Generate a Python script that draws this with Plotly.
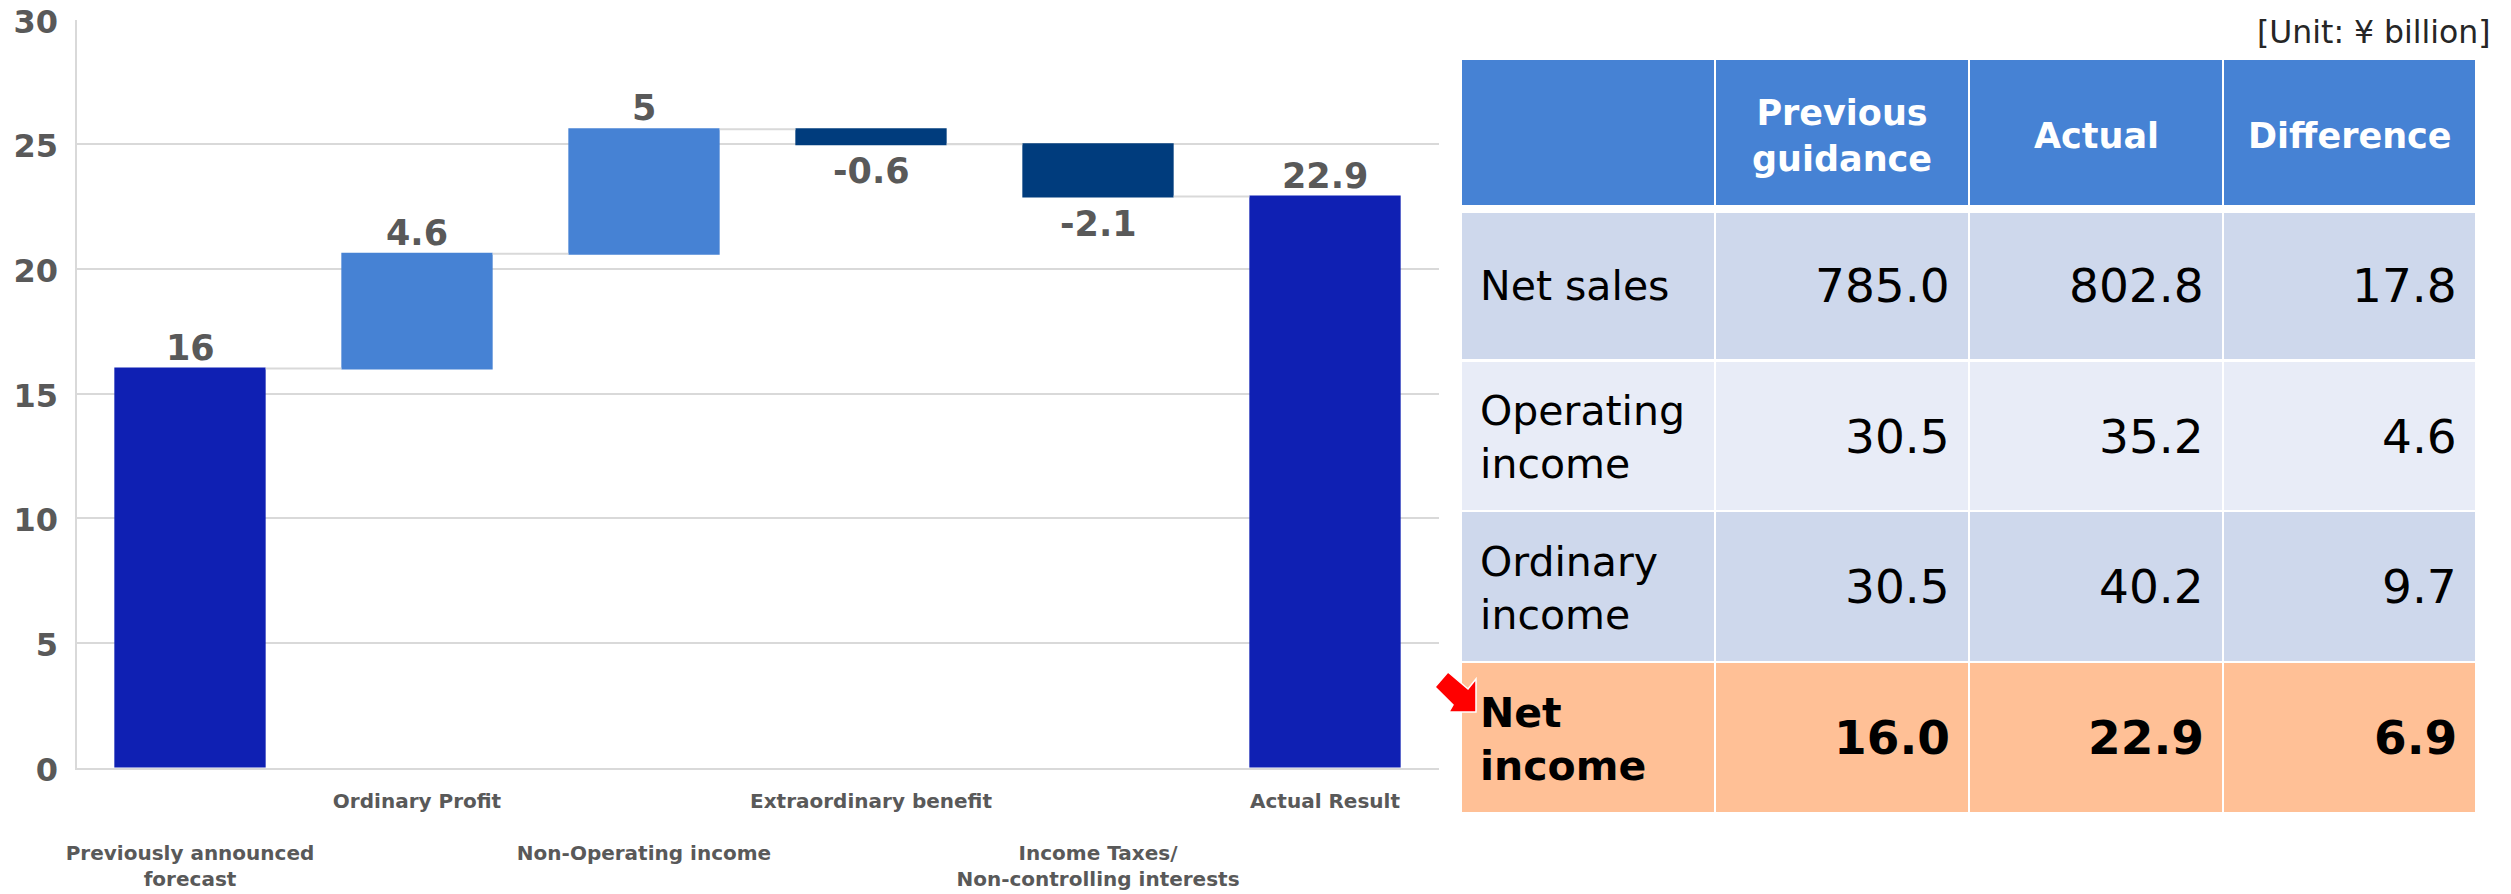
import plotly.graph_objects as go

WIDTH, HEIGHT = 2511, 894

# Waterfall: bridge from the previous forecast to the actual result
categories = ["Previously announced forecast", "Ordinary Profit", "Non-Operating income",
              "Extraordinary benefit", "Income Taxes / Non-controlling interests", "Actual Result"]
tick_labels = ["<br><br>Previously announced<br>forecast", "Ordinary Profit",
               "<br><br>Non-Operating income", "Extraordinary benefit",
               "<br><br>Income Taxes/<br>Non-controlling interests", "Actual Result"]
bridge_values = [16, 4.6, 5, -0.6, -2.1, 22.9]
bridge_measures = ["absolute", "relative", "relative", "relative", "relative", "total"]

# Summary table
column_titles = ["", "Previous<br>guidance", "Actual", "Difference"]
row_titles = ["Net sales", "Operating<br>income", "Ordinary<br>income", "<b>Net<br>income</b>"]
previous_guidance = ["785.0", "30.5", "30.5", "16.0"]
actual = ["802.8", "35.2", "40.2", "22.9"]
difference = ["17.8", "4.6", "9.7", "6.9"]

column_edges = [1462, 1715, 1969, 2223, 2476]
row_edges = [(60, 205), (213, 359), (362, 510), (512, 661), (663, 812)]
row_fills = ["#4682D4", "#CED8EC", "#E8ECF7", "#CED8EC", "#FFC096"]

PLOT_LEFT, PLOT_RIGHT, PLOT_TOP, PLOT_BOTTOM = 76.5, 1438.5, 19.5, 767.5


def fx(px):
    return px / WIDTH


def fy(px):
    return 1 - px / HEIGHT


fig = go.Figure(go.Waterfall(
    x=categories,
    y=bridge_values,
    measure=bridge_measures,
    cliponaxis=False,
    increasing=dict(marker=dict(color="#4682D4", line=dict(width=0))),
    decreasing=dict(marker=dict(color="#003C7D", line=dict(width=0))),
    totals=dict(marker=dict(color="#0F20B3", line=dict(width=0))),
    connector=dict(line=dict(color="#D9D9D9", width=2)),
    hoverinfo="skip",
))

shapes = []
annotations = []

# Value labels sit above rising bars and totals, below falling bars
running = 0
for name, value, measure in zip(categories, bridge_values, bridge_measures):
    running = value if measure != "relative" else running + value
    annotations.append(dict(
        text=f"{value:g}", x=name, y=running, xref="x", yref="y",
        xanchor="center", yanchor="middle", showarrow=False,
        yshift=-27 if value < 0 else 21,
        font=dict(family="DejaVu Sans", size=35, color="#595959", weight="bold"),
    ))


def cell_text(text, x, y, anchor, size, color="#000000", bold=False):
    annotations.append(dict(
        text=f"<b>{text}</b>" if bold else text,
        x=fx(x), y=fy(y), xref="paper", yref="paper",
        xanchor=anchor, yanchor="middle", align="left" if anchor == "left" else "center",
        showarrow=False,
        font=dict(family="DejaVu Sans", size=size, color=color),
    ))


for r, (top, bottom) in enumerate(row_edges):
    for c in range(4):
        shapes.append(dict(
            type="rect", xref="paper", yref="paper", layer="below",
            x0=fx(column_edges[c] + (1 if c else 0)), x1=fx(column_edges[c + 1] - 1),
            y0=fy(bottom), y1=fy(top),
            fillcolor=row_fills[r], line=dict(width=0),
        ))

header_mid = sum(row_edges[0]) / 2 + 3.5
for c in range(1, 4):
    cell_text(column_titles[c], (column_edges[c] + column_edges[c + 1]) / 2, header_mid,
              "center", 35, "#FFFFFF", bold=True)

for r in range(4):
    top, bottom = row_edges[r + 1]
    mid = (top + bottom) / 2
    highlight = r == 3
    cell_text(row_titles[r], 1478, mid + (1.5 if r else 0), "left", 41)
    for c, column in enumerate([previous_guidance, actual, difference]):
        cell_text(column[r], column_edges[c + 2] - 17, mid, "right", 47, bold=highlight)

cell_text("[Unit: ¥ billion]", 2493, 32, "right", 31.5, "#262626")

# Red pointer at the highlighted row
arrow_path = "M 1448,672 L 1435,687 L 1453,705 L 1449,712 L 1476,712 L 1476,679 L 1468,689 Z"


def to_paper(path):
    parts = []
    for token in path.split():
        if "," in token:
            x, y = token.split(",")
            parts.append(f"{fx(float(x)):.5f},{fy(float(y)):.5f}")
        else:
            parts.append(token)
    return " ".join(parts)


shapes.append(dict(type="path", xref="paper", yref="paper", path=to_paper(arrow_path),
                   fillcolor="#FF0000", line=dict(color="#FFFFFF", width=1.5)))

fig.update_layout(
    width=WIDTH, height=HEIGHT,
    margin=dict(l=0, r=0, t=0, b=0),
    paper_bgcolor="#FFFFFF", plot_bgcolor="#FFFFFF",
    showlegend=False,
    waterfallgap=1 / 3,
    shapes=shapes,
    annotations=annotations,
    font=dict(family="DejaVu Sans", color="#595959"),
    xaxis=dict(
        domain=[fx(PLOT_LEFT), fx(PLOT_RIGHT)],
        tickmode="array", tickvals=categories, ticktext=tick_labels,
        tickfont=dict(family="DejaVu Sans", size=20, color="#595959", weight="bold"),
        ticks="", ticklen=0, tickangle=0, showgrid=False,
        showline=True, linecolor="#D9D9D9", linewidth=2,
        ticklabelstandoff=14, automargin=False,
    ),
    yaxis=dict(
        domain=[fy(PLOT_BOTTOM), fy(PLOT_TOP)],
        range=[0, 30], dtick=5, tick0=0,
        tickfont=dict(family="DejaVu Sans", size=32, color="#595959", weight="bold"),
        ticks="", showgrid=True, gridcolor="#D9D9D9", gridwidth=2,
        showline=True, linecolor="#D9D9D9", linewidth=2, zeroline=False,
        ticklabelstandoff=10, ticklabelshift=2, automargin=False,
    ),
)

fig.write_html("out.html")
